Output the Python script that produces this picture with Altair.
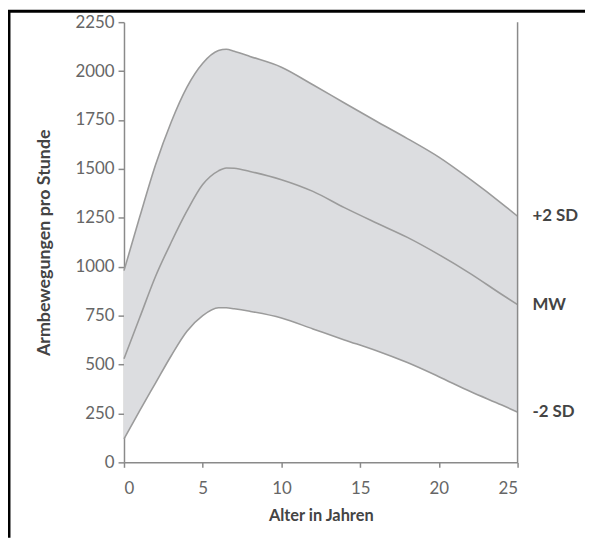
import altair as alt
import pandas as pd

# Age in years
ages = [0, 1, 2, 3, 4, 5, 6, 6.5, 7, 8, 10, 12, 14, 16, 18, 20, 22, 24, 25]
# +2 SD curve
upper = [980, 1255, 1520, 1740, 1918, 2040, 2105, 2112, 2101, 2075, 2020, 1930, 1837, 1745, 1655, 1560, 1446, 1323, 1258]
# mean (MW)
mean = [530, 740, 950, 1125, 1285, 1420, 1490, 1505, 1503, 1487, 1445, 1385, 1302, 1225, 1150, 1062, 965, 858, 806]
# -2 SD curve
lower = [120, 265, 405, 545, 670, 750, 790, 790, 785, 772, 738, 682, 626, 572, 510, 438, 362, 293, 257]

end_labels = ["+2 SD", "MW", "-2 SD"]
end_values = [upper[-1], mean[-1], lower[-1]]

df = pd.DataFrame({"age": ages, "upper": upper, "mean": mean, "lower": lower})
lab_df = pd.DataFrame({"age": [ages[-1]] * 3, "val": end_values, "label": end_labels})
rule_df = pd.DataFrame({"age": [25], "y0": [0], "y1": [2250]})
dummy = pd.DataFrame({"a": [0]})

FONT = "Lato"
LINE = "#9b9b9b"
AXIS = "#8a8a8a"

xscale = alt.Scale(domain=[0, 25], nice=False)
yscale = alt.Scale(domain=[0, 2250], nice=False)

xaxis = alt.Axis(values=[0, 5, 10, 15, 20, 25], title="Alter in Jahren", grid=False, format="d",
                 tickSize=5, domainColor=AXIS, tickColor=AXIS, domainWidth=1.5, tickWidth=1.5,
                 labelFont=FONT, labelFontSize=17, labelColor="#666666", labelPadding=13,
                 titleFont=FONT, titleFontSize=16.5, titleFontWeight="bold", titleColor="#444444",
                 titlePadding=12)
yaxis = alt.Axis(values=list(range(0, 2251, 250)), title="Armbewegungen pro Stunde", grid=False,
                 format="d",
                 tickSize=6, domainColor=AXIS, tickColor=AXIS, domainWidth=1.5, tickWidth=1.5,
                 labelFont=FONT, labelFontSize=17, labelColor="#666666", labelPadding=4,
                 titleFont=FONT, titleFontSize=18, titleFontWeight="bold", titleColor="#444444",
                 titlePadding=22)

base = alt.Chart(df)

band = base.mark_area(color="#dcdde0", interpolate="monotone").encode(
    x=alt.X("age:Q", scale=xscale, axis=xaxis),
    y=alt.Y("lower:Q", scale=yscale, axis=yaxis),
    y2="upper:Q",
)

lines = base.transform_fold(["upper", "mean", "lower"], as_=["series", "val"]).mark_line(
    color=LINE, strokeWidth=1.6, interpolate="monotone"
).encode(
    x=alt.X("age:Q", scale=xscale),
    y=alt.Y("val:Q", scale=yscale),
    detail="series:N",
)

right_rule = alt.Chart(rule_df).mark_rule(color=AXIS, strokeWidth=1.5).encode(
    x=alt.X("age:Q", scale=xscale),
    y=alt.Y("y0:Q", scale=yscale),
    y2="y1:Q",
)

labels = alt.Chart(lab_df).mark_text(
    align="left", baseline="middle", dx=15, font=FONT, fontSize=17, fontWeight="bold", color="#444444"
).encode(
    x=alt.X("age:Q", scale=xscale),
    y=alt.Y("val:Q", scale=yscale),
    text="label:N",
)

frame_left = alt.Chart(dummy).mark_rule(color="black", strokeWidth=3).encode(
    x=alt.value(-116), y=alt.value(-11), y2=alt.value(520)
)
frame_top = alt.Chart(dummy).mark_rule(color="black", strokeWidth=3).encode(
    x=alt.value(-117), x2=alt.value(480), y=alt.value(-11)
)

chart = alt.layer(band, lines, right_rule, labels, frame_left, frame_top).properties(
    width=397, height=444,
    autosize=alt.AutoSizeParams(type="none"),
    padding={"left": 117, "top": 12, "right": 68, "bottom": 74},
).configure_view(stroke=None)

chart.save("out.html", embed_options={"renderer": "svg", "actions": False})
